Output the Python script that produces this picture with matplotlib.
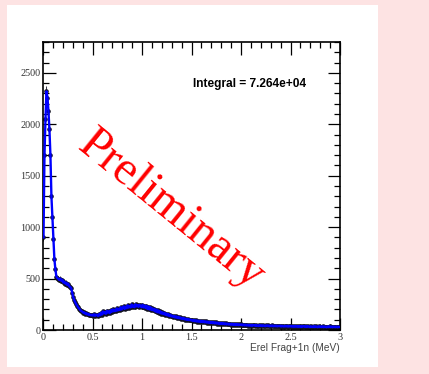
import numpy as np
import matplotlib
matplotlib.use("Agg")
import matplotlib.pyplot as plt
from matplotlib.patches import Rectangle
from matplotlib.ticker import MultipleLocator

# counts per 0.01 MeV bin
counts_0_05 = [900, 1700, 2050, 2320, 2260, 2130, 1950, 1700, 1300, 1100,
               880, 690, 590, 520, 505, 498, 486, 500, 478, 488,
               462, 470, 452, 460, 438, 450, 425, 418, 405, 360,
               320, 292, 270, 250, 236, 220, 208, 196, 186, 180,
               170, 172, 160, 164, 152, 158, 146, 150, 142, 148]
counts_05_10 = [140, 152, 138, 150, 145, 136, 154, 142, 168, 150,
                180, 162, 175, 158, 186, 170, 182, 165, 192, 178,
                200, 182, 196, 185, 210, 190, 205, 195, 222, 200,
                215, 230, 205, 226, 212, 240, 218, 232, 220, 248,
                226, 238, 222, 250, 230, 242, 225, 245, 232, 222]
counts_10_15 = [245, 220, 238, 215, 235, 205, 228, 200, 222, 195,
                210, 190, 205, 180, 198, 172, 190, 168, 182, 160,
                172, 155, 168, 148, 160, 142, 155, 136, 148, 132,
                140, 128, 136, 122, 132, 118, 128, 114, 122, 110,
                118, 106, 114, 102, 110, 98, 106, 96, 102, 94]
counts_15_20 = [98, 88, 96, 85, 94, 82, 92, 80, 90, 78,
                88, 76, 86, 74, 84, 72, 82, 70, 80, 68,
                78, 66, 76, 64, 74, 63, 72, 60, 70, 59,
                68, 58, 66, 56, 64, 55, 62, 54, 61, 52,
                60, 51, 58, 50, 57, 49, 56, 48, 54, 50]
counts_20_25 = [54, 46, 53, 45, 52, 44, 51, 43, 50, 42,
                49, 41, 48, 47, 40, 48, 42, 39, 47, 41,
                46, 38, 45, 42, 37, 45, 39, 44, 36, 43,
                38, 44, 36, 42, 37, 43, 35, 41, 37, 42,
                34, 41, 36, 34, 40, 35, 41, 33, 39, 35]
counts_25_30 = [40, 33, 38, 32, 39, 33, 37, 31, 38, 32,
                37, 30, 36, 38, 31, 36, 30, 37, 33, 29,
                36, 31, 30, 37, 29, 35, 32, 28, 36, 30,
                34, 29, 35, 28, 34, 31, 27, 34, 29, 35,
                28, 33, 27, 34, 30, 28, 33, 27, 32, 29]

bin_width = 0.01
counts = np.array(counts_0_05 + counts_05_10 + counts_10_15 +
                  counts_15_20 + counts_20_25 + counts_25_30, dtype=float)
erel = (np.arange(len(counts)) + 0.5) * bin_width
err = np.sqrt(counts)

x_ticks = [0, 0.5, 1, 1.5, 2, 2.5, 3]
x_ticklabels = ["0", "0.5", "1", "1.5", "2", "2.5", "3"]
y_ticks = [0, 500, 1000, 1500, 2000, 2500]
y_ticklabels = ["0", "500", "1000", "1500", "2000", "2500"]
integral_text = "Integral = 7.264e+04"
x_title = "Erel Frag+1n (MeV)"

W, H = 429, 374
fig = plt.figure(figsize=(W / 100, H / 100), dpi=100, facecolor="#fde3e3")
panel = Rectangle((7 / W, 1 - 367 / H), 371 / W, 362 / H,
                  transform=fig.transFigure, facecolor="white",
                  edgecolor="none", zorder=-10)
fig.add_artist(panel)

ax = fig.add_axes([43 / W, 1 - 330 / H, 297 / W, 288 / H])
ax.errorbar(erel, counts, yerr=err, xerr=bin_width / 2, fmt="o", ms=2.3,
            color="#111122", ecolor="#111122", elinewidth=0.6, capsize=0,
            zorder=2)
ax.plot(erel, counts, color="#0000ff", lw=1.7, zorder=3)

ax.set_xlim(0, 3)
ax.set_ylim(0, 2800)
ax.set_xticks(x_ticks, x_ticklabels, family="Liberation Serif")
ax.set_yticks(y_ticks, y_ticklabels, family="Liberation Serif")
ax.xaxis.set_minor_locator(MultipleLocator(0.1))
ax.yaxis.set_minor_locator(MultipleLocator(100))
ax.tick_params(which="both", direction="in", top=True, right=True,
               width=0.9, colors="black", labelcolor="#333333",
               labelsize=7.3, pad=2)
ax.tick_params(which="major", length=9)
ax.tick_params(which="minor", length=4.5)
for s in ax.spines.values():
    s.set_linewidth(1.2)

ax.set_xlabel(x_title, family="Liberation Sans", fontsize=7.3,
              color="#444444", loc="right", labelpad=1)

ax.text(0.695, 0.854, integral_text, transform=ax.transAxes, ha="center",
        va="center", family="Liberation Sans", fontweight="bold",
        fontsize=8.6, color="black")
ax.text(1.30, 1165, "Preliminary", rotation=-39, ha="center", va="center",
        family="Liberation Serif", fontsize=34.5, color="red", zorder=1)

fig.savefig("out.png", dpi=100, facecolor=fig.get_facecolor())
